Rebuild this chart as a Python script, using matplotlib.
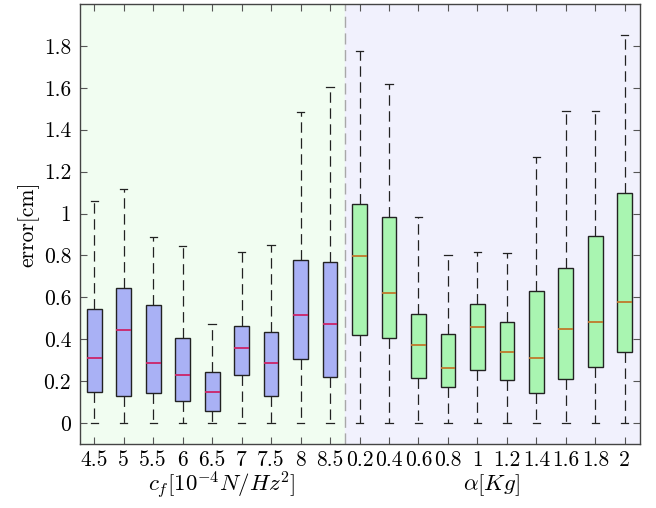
import matplotlib
matplotlib.use('Agg')
import matplotlib.pyplot as plt
import numpy as np

plt.rcParams['font.family'] = 'serif'
plt.rcParams['font.serif'] = ['cmr10', 'DejaVu Serif']
plt.rcParams['mathtext.fontset'] = 'cm'
plt.rcParams['axes.unicode_minus'] = False
plt.rcParams['axes.formatter.use_mathtext'] = True
plt.rcParams['lines.scale_dashes'] = False

# c_f group (left)
cf_labels = ['4.5', '5', '5.5', '6', '6.5', '7', '7.5', '8', '8.5']
cf_lo = [0, 0, 0, 0, 0, 0, 0, 0, 0]
cf_q1 = [0.149, 0.130, 0.143, 0.106, 0.057, 0.227, 0.127, 0.307, 0.220]
cf_med = [0.310, 0.445, 0.287, 0.228, 0.146, 0.358, 0.285, 0.518, 0.472]
cf_q3 = [0.545, 0.646, 0.564, 0.404, 0.246, 0.463, 0.434, 0.778, 0.771]
cf_hi = [1.061, 1.118, 0.886, 0.846, 0.475, 0.817, 0.851, 1.483, 1.606]

# alpha group (right)
al_labels = ['0.2', '0.4', '0.6', '0.8', '1', '1.2', '1.4', '1.6', '1.8', '2']
al_lo = [0, 0, 0, 0, 0, 0, 0, 0, 0, 0]
al_q1 = [0.422, 0.408, 0.213, 0.173, 0.251, 0.206, 0.143, 0.208, 0.268, 0.341]
al_med = [0.799, 0.622, 0.373, 0.264, 0.460, 0.337, 0.310, 0.451, 0.481, 0.580]
al_q3 = [1.044, 0.982, 0.520, 0.425, 0.570, 0.482, 0.630, 0.740, 0.892, 1.099]
al_hi = [1.774, 1.617, 0.982, 0.803, 0.816, 0.811, 1.272, 1.491, 1.488, 1.851]


def make_stats(lo, q1, med, q3, hi):
    return [dict(whislo=a, q1=b, med=c, q3=d, whishi=e, fliers=[])
            for a, b, c, d, e in zip(lo, q1, med, q3, hi)]


fig = plt.figure(figsize=(6.56, 5.08), dpi=100)
ax = fig.add_axes([79.5 / 656, 1 - 444 / 508, 560 / 656, 440 / 508])

n1 = len(cf_labels)
n2 = len(al_labels)
pos1 = np.arange(1, n1 + 1)
pos2 = np.arange(n1 + 1, n1 + n2 + 1)

ax.axvspan(0.5, n1 + 0.5, color='#f1fdf1', zorder=0)
ax.axvspan(n1 + 0.5, n1 + n2 + 0.5, color='#f1f1fd', zorder=0)
ax.axvline(n1 + 0.5, color='#a8a8a8', lw=1.0, ls=(0, (8, 4)), zorder=1)

whisk = dict(color='#222222', lw=0.9, ls=(0, (7.5, 4)))
cap = dict(color='#222222', lw=0.9)

ax.bxp(make_stats(cf_lo, cf_q1, cf_med, cf_q3, cf_hi), positions=pos1,
       widths=0.5, capwidths=0.25, patch_artist=True, showfliers=False,
       boxprops=dict(facecolor='#a9b1f5', edgecolor='#222222', lw=1.0),
       medianprops=dict(color='#cc2468', lw=1.3),
       whiskerprops=whisk, capprops=cap)

ax.bxp(make_stats(al_lo, al_q1, al_med, al_q3, al_hi), positions=pos2,
       widths=0.5, capwidths=0.25, patch_artist=True, showfliers=False,
       boxprops=dict(facecolor='#a9f5b1', edgecolor='#222222', lw=1.0),
       medianprops=dict(color='#c0782c', lw=1.3),
       whiskerprops=whisk, capprops=cap)

ax.set_xlim(0.5, n1 + n2 + 0.5)
ax.set_ylim(-0.1, 2.0)
ax.set_xticks(np.concatenate([pos1, pos2]))
ax.set_xticklabels(cf_labels + al_labels)
ax.set_yticks(np.arange(0, 1.81, 0.2))
ax.set_yticklabels(['0', '0.2', '0.4', '0.6', '0.8', '1', '1.2', '1.4', '1.6', '1.8'])
ax.tick_params(direction='in', top=True, right=True, length=5, width=0.8,
               color='#555555', labelsize=15.5)
ax.tick_params(axis='x', pad=5)
ax.tick_params(axis='y', pad=6)
for sp in ax.spines.values():
    sp.set_color('#444444')
    sp.set_linewidth(1.0)

ax.set_ylabel('error[cm]', fontsize=15.5, labelpad=3)
fig.text(222 / 656, 1 - 485 / 508, r'$c_f[10^{-4}N/Hz^2]$', fontsize=16.5,
         ha='center', va='center')
fig.text(492 / 656, 1 - 485 / 508, r'$\alpha[Kg]$', fontsize=16.5,
         ha='center', va='center')

fig.savefig('out.png', dpi=100)
